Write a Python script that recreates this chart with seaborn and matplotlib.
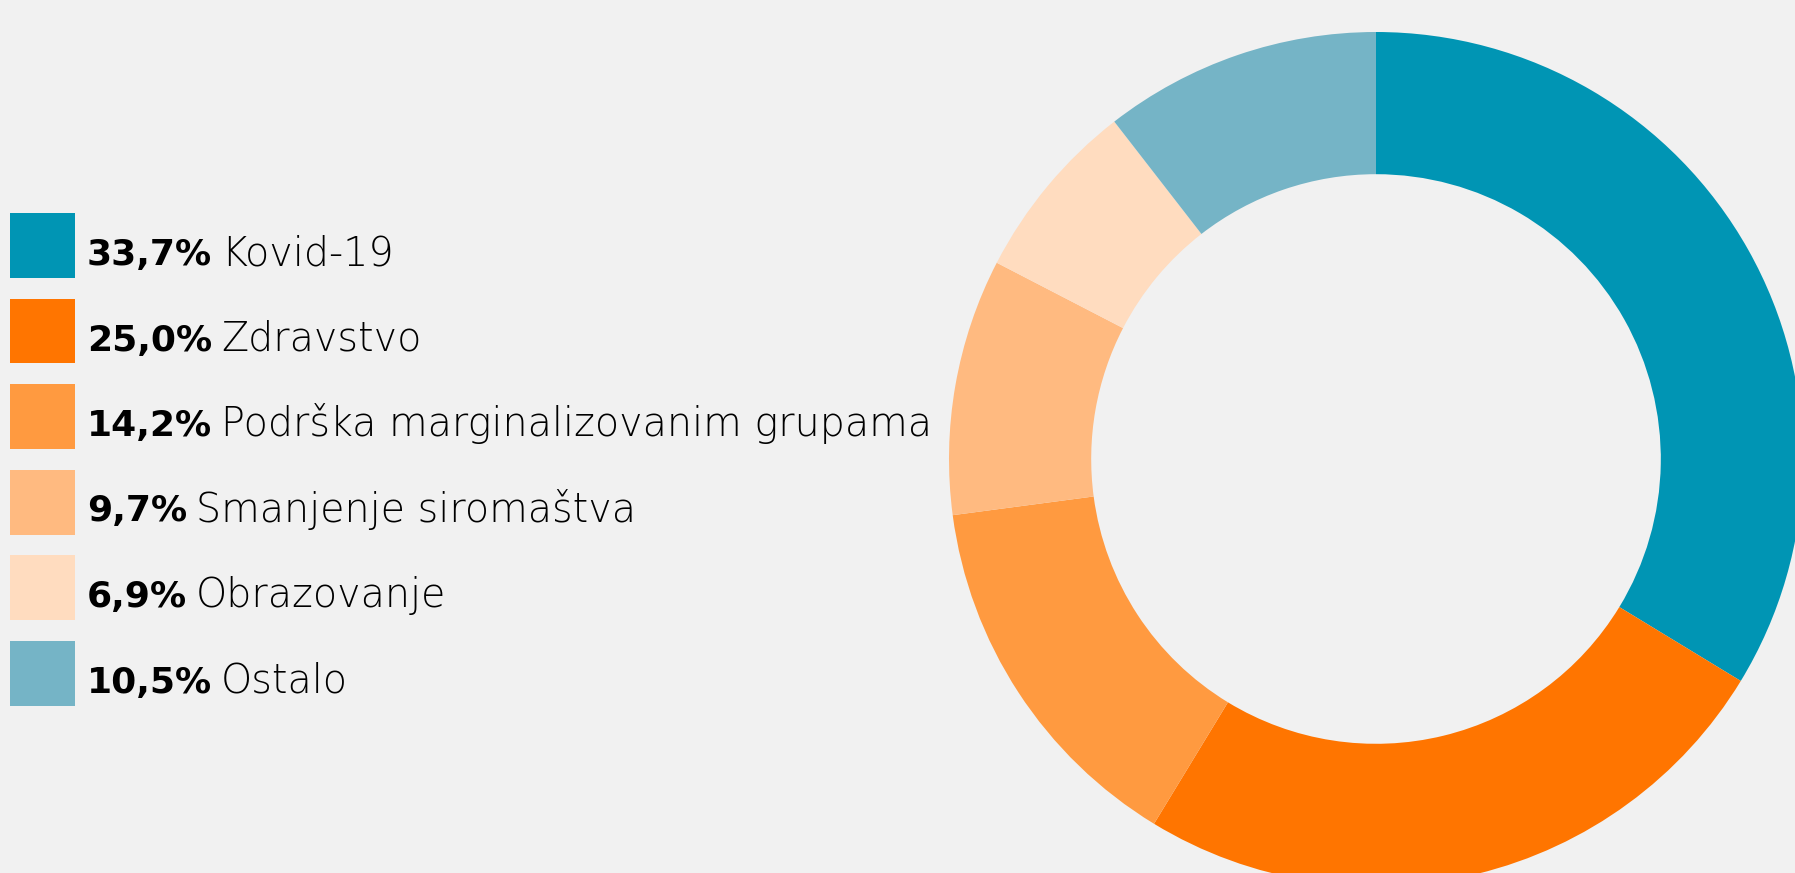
import matplotlib
matplotlib.use("Agg")
import matplotlib.pyplot as plt
import seaborn as sns
from matplotlib.patches import Rectangle

# ---- data ----
categories = ["Kovid-19", "Zdravstvo", "Podrška marginalizovanim grupama",
              "Smanjenje siromaštva", "Obrazovanje", "Ostalo"]
shares = [33.7, 25.0, 14.2, 9.7, 6.9, 10.5]
colors = ["#0095b4", "#ff7500", "#ff9a40", "#ffba80", "#ffdcbf", "#75b4c6"]

BG = "#f1f1f1"
W, H = 1795, 873

sns.set_theme(style="white", rc={"figure.facecolor": BG, "axes.facecolor": BG})
plt.rcParams["font.family"] = ["DejaVu Sans"]

fig = plt.figure(figsize=(W / 100, H / 100), dpi=100)

# donut: centre (1376, 459) px, outer radius 427 px
cx, cy, r = 1376, 459, 427
ax = fig.add_axes([(cx - r) / W, (H - cy - r) / H, 2 * r / W, 2 * r / H])
ax.set_facecolor("none")
ax.pie(shares, colors=colors, startangle=90, counterclock=False, radius=1,
       wedgeprops=dict(width=0.333, linewidth=0))
ax.set_xlim(-1, 1)
ax.set_ylim(-1, 1)
ax.axis("off")

# legend: squares + bold share + light label
renderer = fig.canvas.get_renderer()
sq = 65
y0, step = 245.5, 85.5
for i, (cat, val, col) in enumerate(zip(categories, shares, colors)):
    yc = y0 + i * step
    fig.add_artist(Rectangle((10 / W, (H - yc - sq / 2) / H), sq / W, sq / H,
                             transform=fig.transFigure, color=col, lw=0))
    base = (H - yc - 19.5) / H
    pct = fig.text(87 / W, base, f"{val:.1f}%".replace(".", ","),
                   fontsize=26, fontweight="bold", color="#000000",
                   va="baseline", ha="left")
    x_end = pct.get_window_extent(renderer).x1
    fig.text((x_end + 9) / W, base, cat, fontsize=28.5, fontweight="light",
             color="#000000", va="baseline", ha="left")

fig.savefig("out.png", dpi=100, facecolor=BG)
